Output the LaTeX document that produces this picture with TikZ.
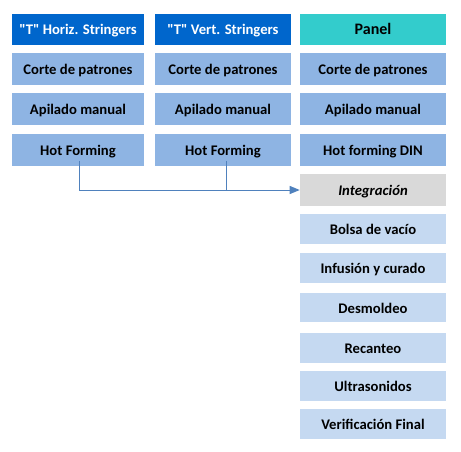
\documentclass[tikz,border=0pt]{standalone}
\usepackage{fontspec}
\setmainfont{Carlito}
\usetikzlibrary{arrows.meta}
\definecolor{hdrblue}{RGB}{0,102,204}
\definecolor{hdrteal}{RGB}{51,204,204}
\definecolor{stepblue}{RGB}{142,180,227}
\definecolor{intgray}{RGB}{217,217,217}
\definecolor{lowblue}{RGB}{197,217,241}
\definecolor{linkblue}{RGB}{79,129,189}
\begin{document}
\begin{tikzpicture}[x=0.75pt,y=0.75pt,yscale=-1,xscale=1,
  box/.style={inner sep=0pt,font=\bfseries\fontsize{11}{13}\selectfont,minimum height=24pt,text height=9pt,text depth=1pt},
  hdr/.style={box,fill=hdrblue,text=white,minimum height=23pt},
  stepbox/.style={box,fill=stepblue},
  lowbox/.style={box,fill=lowblue,minimum width=109.5pt,minimum height=22pt},
  link/.style={draw=linkblue,line width=0.75pt}]
\useasboundingbox (0,0) rectangle (461,451);

% Column 1: horizontal stringers
\node [hdr,minimum width=99pt] (hs1) at (78,29.3) {\textquotedbl T\textquotedbl{} Horiz. Stringers};
\node [stepbox,minimum width=99pt] (hs2) at (78,69) {Corte de patrones};
\node [stepbox,minimum width=99pt] (hs3) at (78,109) {Apilado manual};
\node [stepbox,minimum width=99pt] (hs4) at (78,150) {Hot Forming};

% Column 2: vertical stringers
\node [hdr,minimum width=102pt] (vs1) at (223,29.3) {\textquotedbl T\textquotedbl{} Vert. Stringers};
\node [stepbox,minimum width=102pt] (vs2) at (223,69) {Corte de patrones};
\node [stepbox,minimum width=102pt] (vs3) at (223,109) {Apilado manual};
\node [stepbox,minimum width=102pt] (vs4) at (223,150) {Hot Forming};

% Column 3: panel
\node [hdr,fill=hdrteal,text=black,minimum width=109.5pt,font=\bfseries\fontsize{12}{14}\selectfont] (pn1) at (373,29.3) {Panel};
\node [stepbox,minimum width=109.5pt] (pn2) at (373,69) {Corte de patrones};
\node [stepbox,minimum width=109.5pt] (pn3) at (373,109) {Apilado manual};
\node [stepbox,minimum width=109.5pt] (pn4) at (373,150) {Hot forming DIN};

% Integration and following steps
\node [box,fill=intgray,minimum width=109.5pt,font=\bfseries\itshape\fontsize{11}{13}\selectfont] (integ) at (373,190) {Integración};
\node [lowbox] (bolsa) at (373,229) {Bolsa de vacío};
\node [lowbox] (infus) at (373,268) {Infusión y curado};
\node [lowbox] (desmo) at (373,307.7) {Desmoldeo};
\node [lowbox] (recan) at (373,348) {Recanteo};
\node [lowbox] (ultra) at (373,386) {Ultrasonidos};
\node [lowbox] (verif) at (373,424) {Verificación Final};

% Connectors
\coordinate (hs4end) at ([xshift=1pt,yshift=-4.2pt]hs4.south);
\coordinate (vs4end) at ([xshift=2.5pt,yshift=-4.2pt]vs4.south);
\draw [link,-{Triangle[length=7.5pt,width=6pt]}] (hs4end) |- (integ.west);
\draw [link] (vs4end) -- (vs4end |- integ.west);

\end{tikzpicture}
\end{document}
